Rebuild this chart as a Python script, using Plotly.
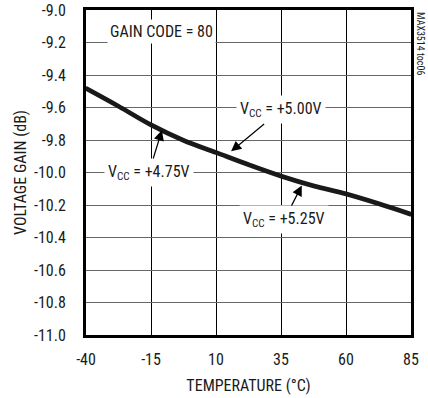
import plotly.graph_objects as go

temp = [-40, -27.5, -15, -2.5, 10, 22.5, 35, 47.5, 60, 72.5, 85]
gain_475 = [-9.475, -9.585, -9.700, -9.795, -9.870, -9.945, -10.015, -10.075, -10.125, -10.185, -10.250]
gain_500 = [-9.482, -9.592, -9.707, -9.802, -9.877, -9.952, -10.022, -10.082, -10.132, -10.192, -10.257]
gain_525 = [-9.489, -9.599, -9.714, -9.809, -9.884, -9.959, -10.029, -10.089, -10.139, -10.199, -10.264]

x_ticks = [-40, -15, 10, 35, 60, 85]
y_ticks = [-9.0, -9.2, -9.4, -9.6, -9.8, -10.0, -10.2, -10.4, -10.6, -10.8, -11.0]

FONT = "Liberation Sans Narrow, Roboto Condensed, Arial Narrow, Liberation Sans, sans-serif"

fig = go.Figure()

for ys in (gain_475, gain_500, gain_525):
    fig.add_trace(go.Scatter(x=temp, y=ys, mode="lines",
                             line=dict(color="#1a1a1a", width=2.6, shape="spline"),
                             showlegend=False, hoverinfo="skip"))

fig.update_layout(
    width=428, height=398,
    margin=dict(l=86, r=17, t=10, b=63, autoexpand=False),
    paper_bgcolor="white", plot_bgcolor="white",
    font=dict(family=FONT, size=16, color="#1a1a1a"),
    xaxis=dict(range=[-40, 85], tickvals=x_ticks, ticktext=[str(v) for v in x_ticks],
               showgrid=True, gridcolor="#000000", gridwidth=1.3, zeroline=False,
               showline=True, linecolor="black", linewidth=3, mirror=True,
               ticks="outside", ticklen=8, tickcolor="rgba(0,0,0,0)",
               tickfont=dict(size=16), automargin=False,
               title=dict(text="TEMPERATURE (°C)", font=dict(size=16), standoff=12)),
    yaxis=dict(range=[-11.0, -9.0], tickvals=y_ticks, ticktext=[f"{v:.1f}" for v in y_ticks],
               showgrid=True, gridcolor="#666666", gridwidth=1.3, zeroline=False,
               showline=True, linecolor="black", linewidth=3, mirror=True,
               ticks="outside", ticklen=14, tickcolor="rgba(0,0,0,0)",
               tickfont=dict(size=16), automargin=False,
               title=dict(text="VOLTAGE GAIN (dB)", font=dict(size=16), standoff=4)),
)

fig.add_annotation(x=-10.8, y=-9.13, text="GAIN CODE = 80", showarrow=False,
                   bgcolor="white", font=dict(size=16), borderpad=2)

arrow = dict(showarrow=True, arrowhead=2, arrowsize=1.7, arrowwidth=1.2, arrowcolor="black",
             bgcolor="white", font=dict(size=16), borderpad=3,
             xref="x", yref="y", axref="x", ayref="y")

fig.add_annotation(x=15.8, y=-9.87, ax=35, ay=-9.615, text="V<sub>CC</sub> = +5.00V", **arrow)
fig.add_annotation(x=-10.8, y=-9.74, ax=-15.8, ay=-10.0, text="V<sub>CC</sub> = +4.75V", **arrow)
fig.add_annotation(x=43, y=-10.08, ax=36.3, ay=-10.29, text="V<sub>CC</sub> = +5.25V", **arrow)

fig.add_annotation(x=1.0, y=1.0, xref="paper", yref="paper", xanchor="left", yanchor="top",
                   xshift=2, text="MAX3514 toc06", textangle=90, showarrow=False,
                   font=dict(size=10))

fig.write_html("out.html")
